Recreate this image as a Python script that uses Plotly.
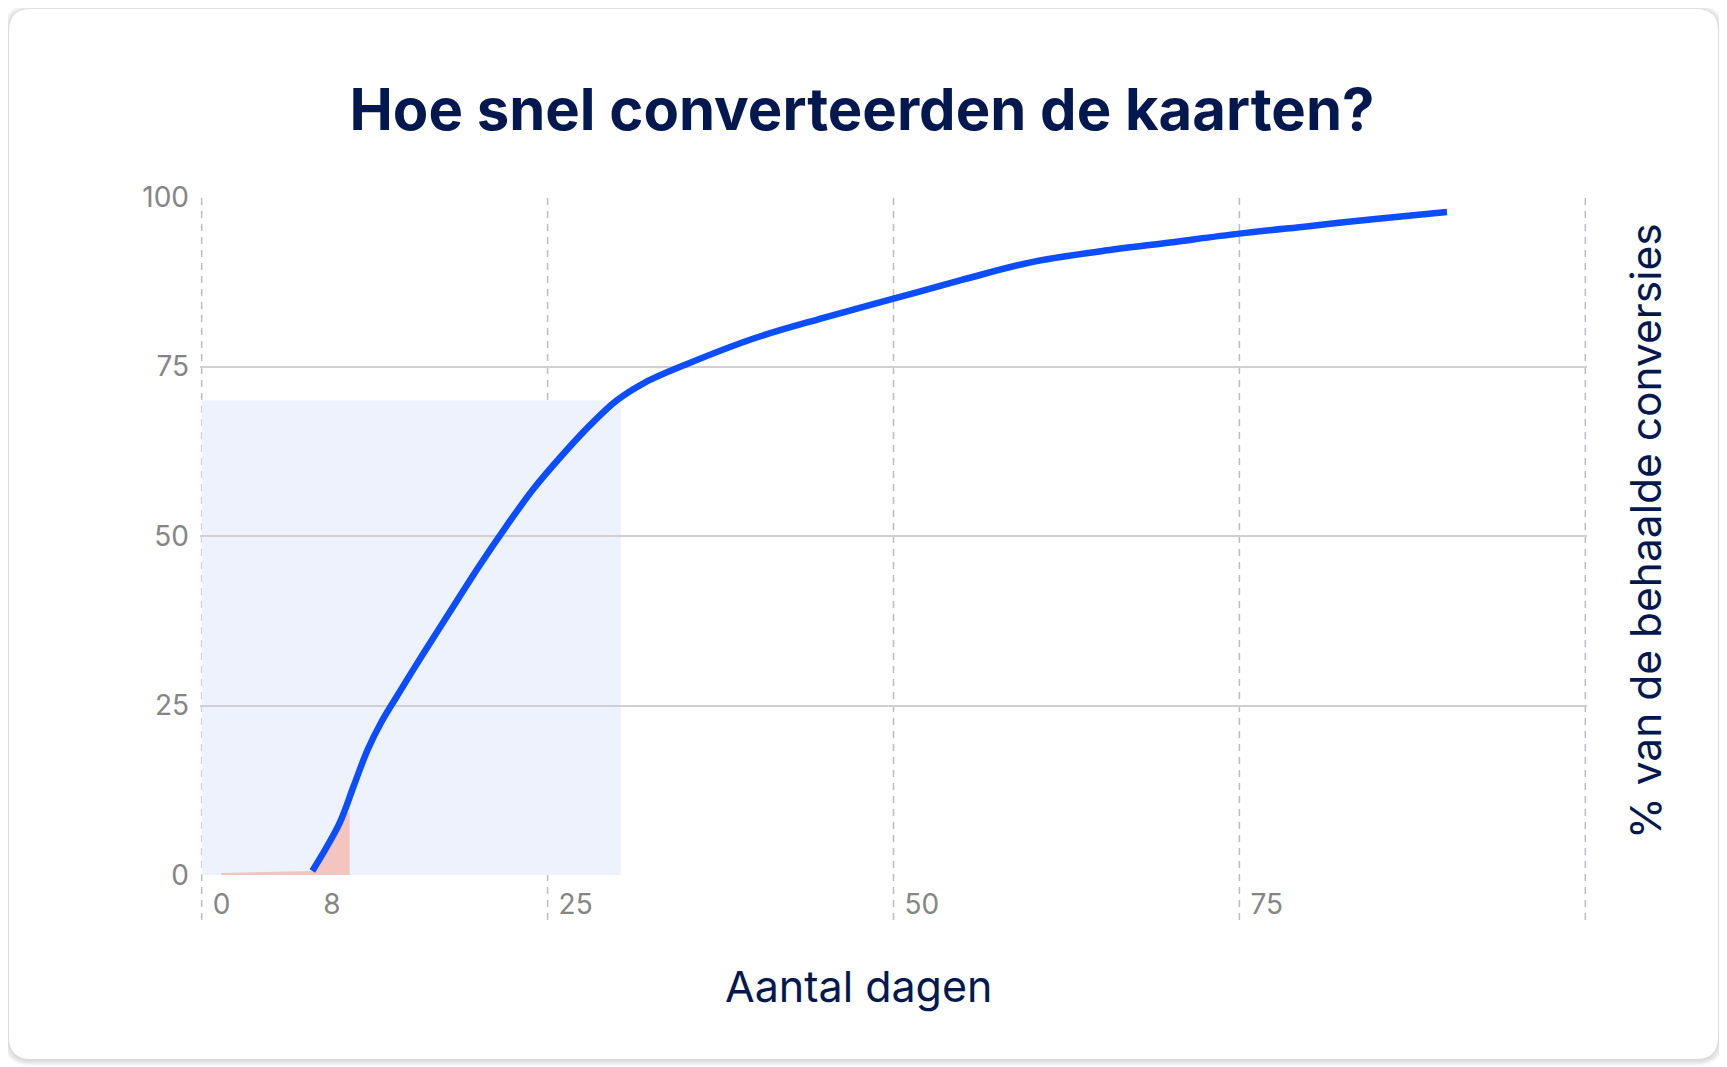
"""Hoe snel converteerden de kaarten? - cumulatieve conversies per dag"""

import plotly.graph_objects as go

# cumulatief % van de behaalde conversies per aantal dagen
days = [8, 9, 10, 11, 12, 13, 14, 16, 18, 20, 22, 24, 26, 28, 30, 32, 35,
        40, 45, 50, 55, 60, 65, 70, 75, 80, 85, 90]
pct = [0.6, 4.0, 7.8, 13.2, 18.5, 22.6, 26.0, 32.6, 39.0, 45.4, 51.4, 57.0,
       61.8, 66.2, 70.0, 72.6, 75.3, 79.2, 82.2, 85.0, 87.8, 90.4, 92.0,
       93.3, 94.6, 95.7, 96.8, 97.8]

# roze vlak: eerste dagen
pink_days = [1.4, 8, 9, 10, 10.7]
pink_pct = [0.3, 0.6, 4.0, 7.8, 9.5]

# lichtblauw kader: 70% binnen ~30 dagen
highlight_days = 30.3
highlight_pct = 70

x_tickvals = [0, 8, 25, 50, 75]
x_ticktext = ["0", "8", "25", "50", "75"]
x_gridvals = [0, 25, 50, 75, 100]
y_tickvals = [0, 25, 50, 75, 100]

NAVY = "#03184f"
BLUE = "#0b4dff"
GRID = "#cfcfd4"
TICK = "#858585"

# de pagina heeft 8px marge, dus alles 8px kleiner
W, H = 1719, 1059
L, R, T, B = 192, 140, 189, 192
PW, PH = W - L - R, H - T - B
OFF = 8


def to_paper(px, py):
    # px, py in schermpixels van het origineel
    return (px - OFF - L) / PW, (H - B - (py - OFF)) / PH


def rounded_path(left, top, right, bottom, r):
    x0, y1 = to_paper(left, top)
    x1, y0 = to_paper(right, bottom)
    rx, ry = r / PW, r / PH
    return (f"M {x0+rx},{y0} L {x1-rx},{y0} Q {x1},{y0} {x1},{y0+ry} "
            f"L {x1},{y1-ry} Q {x1},{y1} {x1-rx},{y1} L {x0+rx},{y1} "
            f"Q {x0},{y1} {x0},{y1-ry} L {x0},{y0+ry} Q {x0},{y0} {x0+rx},{y0} Z")


fig = go.Figure()

fig.add_trace(go.Scatter(
    x=pink_days, y=pink_pct,
    mode="lines", line=dict(width=0, color="#f4c5bf"),
    fill="tozeroy", fillcolor="#f4c5bf",
    hoverinfo="skip", showlegend=False
))

fig.add_trace(go.Scatter(
    x=days, y=pct,
    mode="lines",
    line=dict(color=BLUE, width=6.5, shape="spline", smoothing=1.0),
    hovertemplate="Dag %{x}: %{y:.1f}%<extra></extra>",
    showlegend=False
))

shapes = []
# schaduw + kaart
for i in range(6, 0, -1):
    shapes.append(dict(type="path", xref="paper", yref="paper", layer="below",
                       path=rounded_path(9 - i, 9 - i + 1, 1718 + i, 1059 + i + 1, 22 + i),
                       fillcolor="rgba(0,0,0,0.022)", line=dict(width=0)))
shapes.append(dict(type="path", xref="paper", yref="paper", layer="below",
                   path=rounded_path(9, 9, 1718, 1059, 22),
                   fillcolor="white", line=dict(width=0)))

# lichtblauw kader
shapes.append(dict(type="rect", xref="x", yref="y", layer="below",
                   x0=0, x1=highlight_days, y0=0, y1=highlight_pct,
                   fillcolor="#edf2fd", line=dict(width=0)))

# verticale gestreepte lijnen, doorlopend onder de as
for v in x_gridvals:
    shapes.append(dict(type="line", xref="x", yref="paper", layer="below",
                       x0=v, x1=v, y0=-45 / PH, y1=1,
                       line=dict(color="#bcbcc2", width=1.5, dash="7px,6px")))

fig.update_layout(
    width=W, height=H,
    margin=dict(l=L, r=R, t=T, b=B),
    paper_bgcolor="white",
    plot_bgcolor="rgba(0,0,0,0)",
    font=dict(family="Inter, Noto Sans, sans-serif"),
    title=dict(text="<b>Hoe snel converteerden de kaarten?</b>",
               x=(862 - OFF) / W, xanchor="center", xref="container",
               y=1 - (110 - OFF) / H, yanchor="middle", yref="container",
               font=dict(size=58, color=NAVY, family="Inter")),
    xaxis=dict(range=[-0.12, 100.12], tickvals=x_tickvals, ticktext=x_ticktext,
               showgrid=False, zeroline=False, showline=False,
               ticklabelposition="outside right", ticklabelshift=11,
               ticklabelstandoff=10,
               tickfont=dict(size=28, color=TICK, family="Inter")),
    yaxis=dict(range=[0, 100], tickvals=y_tickvals,
               showgrid=True, gridcolor=GRID, gridwidth=1.5,
               zeroline=False, showline=False,
               ticklabelstandoff=10,
               tickfont=dict(size=28, color=TICK, family="Inter")),
    shapes=shapes,
    annotations=[
        dict(text="Aantal dagen", xref="paper", yref="paper",
             x=to_paper(858.5, 986)[0], y=to_paper(858.5, 986)[1],
             xanchor="center", yanchor="middle", showarrow=False,
             font=dict(size=43, color=NAVY, family="Inter")),
        dict(text="% van de behaalde conversies", xref="paper", yref="paper",
             x=to_paper(1645, 531)[0], y=to_paper(1645, 531)[1], textangle=-90,
             xanchor="center", yanchor="middle", showarrow=False,
             font=dict(size=42.5, color=NAVY, family="Inter")),
    ],
)

fig.write_html("out.html")
